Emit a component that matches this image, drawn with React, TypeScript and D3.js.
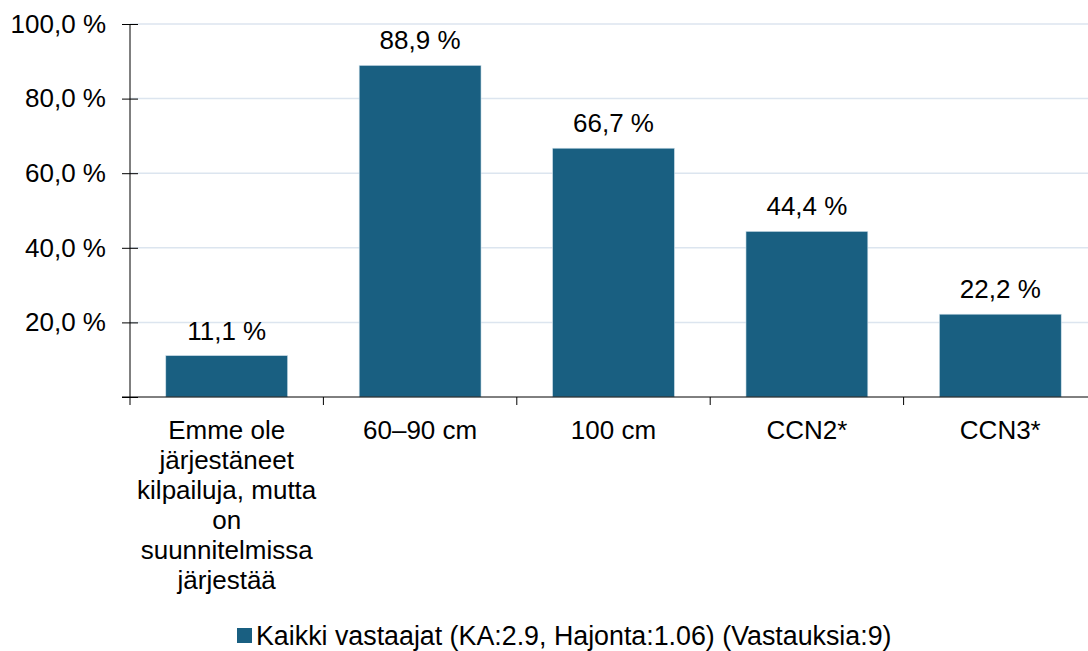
import * as d3 from "d3";
import { useEffect, useRef } from "react";

const CATEGORIES = [
  "Emme ole järjestäneet kilpailuja, mutta on suunnitelmissa järjestää",
  "60–90 cm",
  "100 cm",
  "CCN2*",
  "CCN3*",
];
const CATEGORY_LINES = [
  ["Emme ole", "järjestäneet", "kilpailuja, mutta", "on", "suunnitelmissa", "järjestää"],
  ["60–90 cm"],
  ["100 cm"],
  ["CCN2*"],
  ["CCN3*"],
];
const VALUES = [11.1, 88.9, 66.7, 44.4, 22.2];
const Y_TICKS = [0, 20, 40, 60, 80, 100];
const LEGEND_LABEL = "Kaikki vastaajat (KA:2.9, Hajonta:1.06) (Vastauksia:9)";

const BAR_COLOR = "#195f81";
const FONT = "'Liberation Sans', Arial, sans-serif";

const App = () => {
  const svgRef = useRef<SVGSVGElement | null>(null);
  const width = 1088;
  const height = 651;
  const margin = { left: 130, top: 24, right: -9, bottom: 254 };
  const innerW = width - margin.left - margin.right;
  const innerH = height - margin.top - margin.bottom;

  useEffect(() => {
    const svgEl = d3.select(svgRef.current);
    svgEl.selectAll("*").remove();
    svgEl.style("background", "#fff");

    const fmt = (v: number) => v.toFixed(1).replace(".", ",") + " %";

    const x = d3.scaleBand<string>().domain(CATEGORIES).range([0, innerW]).paddingInner(0.37).paddingOuter(0.185);
    const xOuter = d3.scaleBand<string>().domain(CATEGORIES).range([0, innerW]).padding(0);
    const y = d3.scaleLinear().domain([0, 100]).range([innerH, 0]);

    const svg = svgEl.append("g").attr("transform", `translate(${margin.left},${margin.top})`);

    // grid lines
    svg
      .append("g")
      .selectAll("line")
      .data(Y_TICKS.filter((t) => t > 0))
      .enter()
      .append("line")
      .attr("x1", 0)
      .attr("x2", innerW)
      .attr("y1", (d) => y(d))
      .attr("y2", (d) => y(d))
      .attr("stroke", "#dce5ef")
      .attr("stroke-width", 1.5);

    // bars
    svg
      .append("g")
      .selectAll("rect")
      .data(VALUES)
      .enter()
      .append("rect")
      .attr("x", (_, i) => x(CATEGORIES[i])!)
      .attr("width", x.bandwidth())
      .attr("y", (d) => y(d))
      .attr("height", (d) => innerH - y(d))
      .attr("fill", BAR_COLOR)
      .attr("stroke", "#cfe0ea")
      .attr("stroke-width", 0.6);

    // value labels
    svg
      .append("g")
      .selectAll("text")
      .data(VALUES)
      .enter()
      .append("text")
      .attr("x", (_, i) => x(CATEGORIES[i])! + x.bandwidth() / 2)
      .attr("y", (d) => y(d) - 16)
      .attr("text-anchor", "middle")
      .attr("font-family", FONT)
      .attr("font-size", 26)
      .attr("fill", "#000")
      .text((d) => fmt(d));

    // y axis
    const yAxis = d3
      .axisLeft(y)
      .tickValues(Y_TICKS)
      .tickSize(8)
      .tickPadding(16)
      .tickFormat((v) => (v === 0 ? "" : fmt(v as number)));
    const yG = svg.append("g").call(yAxis);
    yG.select(".domain").attr("stroke", "#000").attr("d", `M0,${innerH}V0`);
    yG.selectAll(".tick line").attr("stroke", "#000").attr("x1", 8);
    yG.selectAll(".tick text").attr("font-family", FONT).attr("font-size", 26).attr("fill", "#000");

    // x axis
    const xG = svg.append("g").attr("transform", `translate(0,${innerH})`);
    xG.append("line").attr("x1", -8).attr("x2", innerW).attr("y1", 0).attr("y2", 0).attr("stroke", "#000");
    xG
      .selectAll(".sep")
      .data(CATEGORIES)
      .enter()
      .append("line")
      .attr("x1", (d) => xOuter(d)!)
      .attr("x2", (d) => xOuter(d)!)
      .attr("y1", 0)
      .attr("y2", 8)
      .attr("stroke", "#000");

    // category labels
    CATEGORY_LINES.forEach((lines, i) => {
      const cx = xOuter(CATEGORIES[i])! + xOuter.bandwidth() / 2;
      const t = xG
        .append("text")
        .attr("text-anchor", "middle")
        .attr("font-family", FONT)
        .attr("font-size", 26)
        .attr("fill", "#000");
      lines.forEach((l, j) => {
        t.append("tspan").attr("x", cx).attr("y", 42 + j * 30).text(l);
      });
    });

    // legend
    const lg = svgEl.append("g").attr("transform", `translate(237,628)`);
    lg.append("rect").attr("width", 15).attr("height", 15).attr("fill", BAR_COLOR);
    lg.append("text")
      .attr("x", 19)
      .attr("y", 17)
      .attr("font-family", FONT)
      .attr("font-size", 26.8)
      .attr("fill", "#000")
      .text(LEGEND_LABEL);
  }, []);

  return (
    <svg
      ref={svgRef}
      width={width}
      height={height}
      style={{ position: "absolute", left: 0, top: 0 }}
    />
  );
};

export default App;
